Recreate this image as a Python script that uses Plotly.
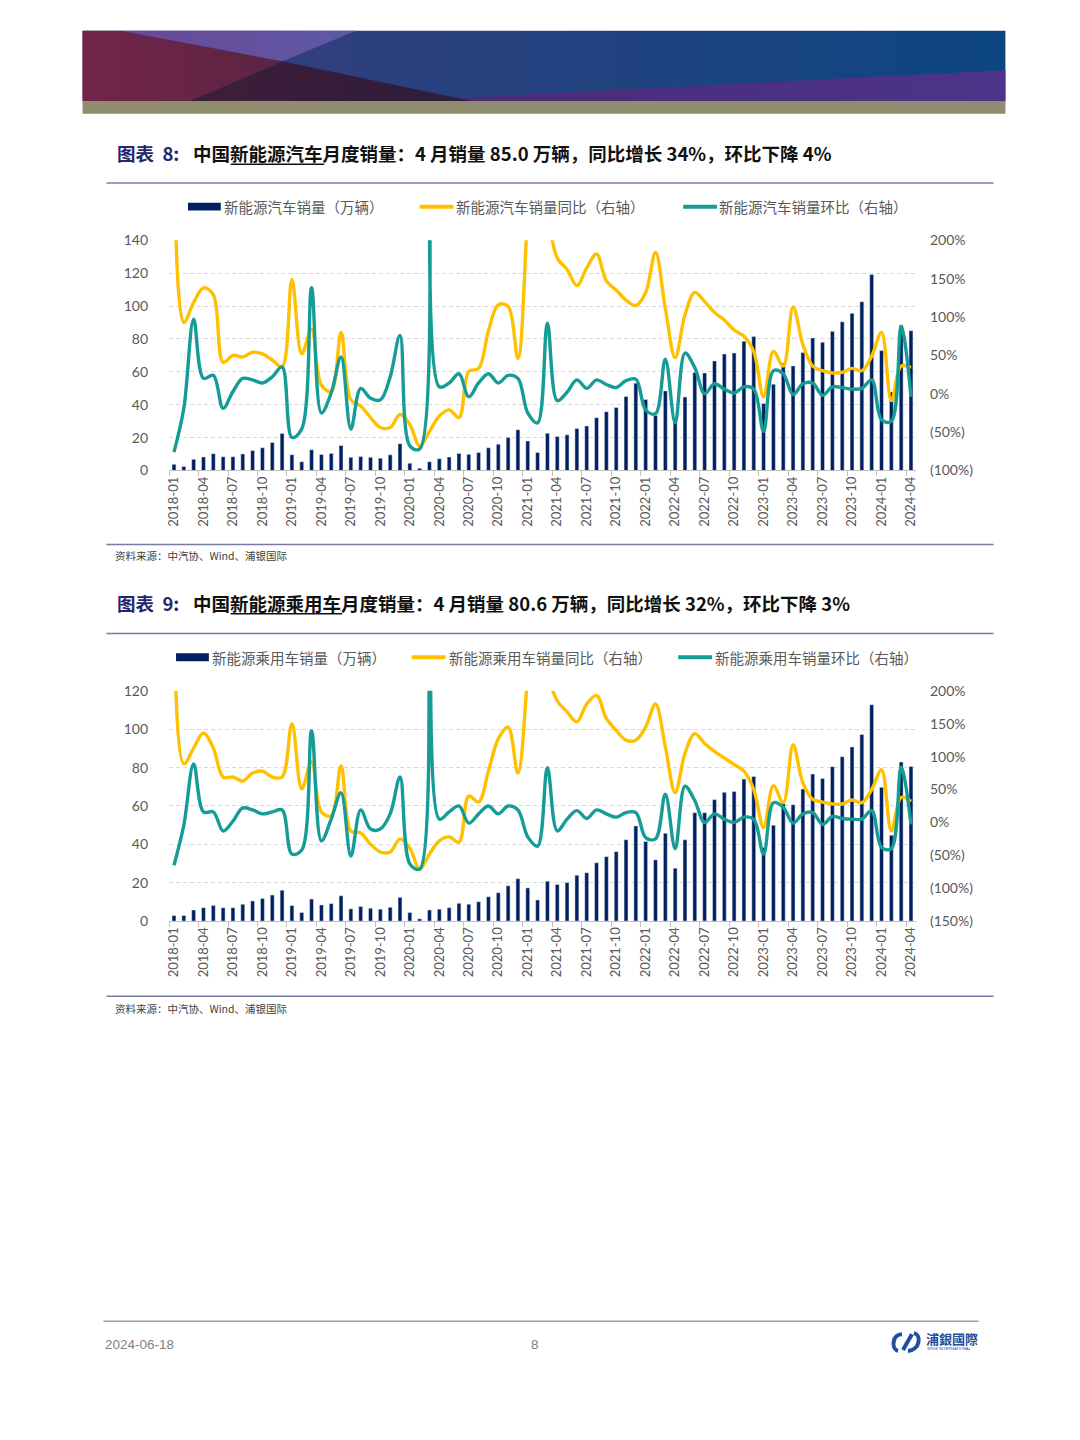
import plotly.graph_objects as go

W, H = 1080, 1440

# ---------------- data ----------------
months = [f"{y}-{m:02d}" for y in range(2018, 2025) for m in range(1, 13)][:76]
tick_months = months[::3]

# Chart 8: NEV monthly sales (10k units), YoY %, MoM %
nev_sales = [3.8, 2.5, 6.8, 8.2, 10.2, 8.4, 8.4, 10.1, 12.1, 13.8, 17.0, 22.5,
             9.6, 5.3, 12.6, 9.7, 10.4, 15.2, 8.0, 8.5, 8.0, 7.5, 9.5, 16.3,
             4.4, 1.3, 5.3, 7.2, 8.2, 10.4, 9.8, 10.9, 13.8, 16.0, 20.0, 24.8,
             17.9, 11.0, 22.6, 20.6, 21.7, 25.6, 27.1, 32.1, 35.7, 38.3, 45.0, 53.1,
             43.1, 33.4, 48.4, 29.9, 44.7, 59.6, 59.3, 66.6, 70.8, 71.4, 78.6, 81.4,
             40.8, 52.5, 65.3, 63.6, 71.7, 80.6, 78.0, 84.6, 90.4, 95.6, 102.6, 119.1,
             72.9, 47.7, 88.3, 85.0]
nev_yoy = [390, 93, 119, 138, 129, 41, 50, 48, 54, 52, 44, 35,
           149, 52, 84, 11, 3, 80, -8, -16, -31, -44, -44, -27,
           -40, -68, -49, -29, -21, -31, 29, 33, 82, 116, 114, 46,
           235, 400, 240, 177, 162, 141, 164, 182, 147, 135, 122, 115,
           132, 184, 111, 47, 103, 132, 120, 106, 96, 83, 75, 55,
           -4, 55, 36, 113, 64, 36, 30, 27, 28, 33, 30, 49,
           80, -9, 36, 34]
nev_mom = [-76, -19, 97, 20, 24, -19, 3, 20, 18, 14, 22, 35,
           -57, -46, 138, -25, 1, 48, -46, 7, -6, -8, 22, 76,
           -68, -72, 450, 9, 14, 26, -4, 14, 26, 14, 24, 20,
           -25, -38, 92, -9, 2, 18, 7, 18, 12, 8, 17, 19,
           -21, -26, 45, -38, 53, 34, 0, 13, 6, 1, 9, 6,
           -49, 30, 26, -1, 13, 14, -2, 9, 8, 6, 7, 18,
           -34, -36, 88, -4]

# Chart 9: NEV passenger-car monthly sales (10k units), YoY %, MoM %
pv_sales = [2.9, 2.9, 5.8, 7.0, 8.1, 7.0, 7.0, 8.8, 10.5, 11.8, 13.6, 16.1,
            8.1, 4.5, 11.5, 8.4, 9.1, 13.2, 6.4, 7.6, 6.7, 6.2, 7.2, 12.4,
            4.5, 1.2, 5.8, 6.2, 7.0, 9.3, 8.8, 10.1, 12.7, 14.8, 18.4, 22.1,
            17.3, 11.0, 20.8, 19.1, 20.1, 23.9, 25.2, 30.4, 33.6, 36.2, 42.4, 49.6,
            41.5, 31.9, 45.8, 27.6, 42.4, 56.5, 56.5, 63.3, 67.1, 67.5, 74.0, 75.4,
            38.4, 50.0, 61.3, 60.6, 68.8, 76.6, 74.3, 80.5, 85.7, 90.8, 97.3, 112.8,
            69.7, 44.8, 82.9, 80.6]
pv_yoy = [500, 89, 113, 136, 113, 69, 69, 63, 75, 78, 69, 69,
          150, 51, 92, 16, 10, 86, -13, -16, -33, -45, -45, -25,
          -39, -71, -48, -28, -22, -30, 40, 31, 78, 127, 145, 75,
          225, 400, 230, 185, 168, 153, 180, 193, 158, 140, 125, 125,
          145, 180, 115, 45, 105, 135, 120, 108, 98, 88, 78, 50,
          -8, 56, 30, 118, 60, 35, 31, 28, 28, 34, 30, 50,
          80, -13, 38, 32]
pv_mom = [-65, -4, 89, 16, 16, -13, 2, 22, 19, 13, 16, 19,
          -48, -42, 139, -28, 5, 45, -51, 19, -10, -10, 13, 69,
          -63, -71, 420, 5, 16, 25, -1, 13, 25, 13, 25, 19,
          -22, -36, 83, -13, 5, 18, 6, 19, 13, 8, 15, 15,
          -23, -25, 43, -40, 55, 33, 0, 13, 5, 0, 8, 5,
          -48, 30, 23, -1, 13, 15, -3, 9, 6, 5, 5, 18,
          -38, -40, 84, -3]

# axis tick labels
left1_ticks = [0, 20, 40, 60, 80, 100, 120, 140]
right1_vals = [-100, -50, 0, 50, 100, 150, 200]
right1_text = ["(100%)", "(50%)", "0%", "50%", "100%", "150%", "200%"]
left2_ticks = [0, 20, 40, 60, 80, 100, 120]
right2_vals = [-150, -100, -50, 0, 50, 100, 150, 200]
right2_text = ["(150%)", "(100%)", "(50%)", "0%", "50%", "100%", "150%", "200%"]

# ---------------- styles ----------------
NAVY = "#002060"
YEL = "#FFC000"
TEAL = "#169C97"
GRID = "#D9D9D9"
AXC = "#BFBFBF"
TXT = "#595959"
CJK = "Noto Sans CJK SC"
NUMF = "Lato"
RULE = "#7A7AA6"
LW = 3.4


def fy(y):
    return 1 - y / H


fig = go.Figure()

# ---------- chart 8 ----------
fig.add_trace(go.Bar(x=months, y=nev_sales, marker_color=NAVY, xaxis="x", yaxis="y",
                     showlegend=False, hoverinfo="skip"))
fig.add_trace(go.Scatter(x=months, y=nev_yoy, mode="lines", xaxis="x", yaxis="y2",
                         line=dict(color=YEL, width=LW, shape="spline", smoothing=1.0),
                         showlegend=False, hoverinfo="skip"))
fig.add_trace(go.Scatter(x=months, y=nev_mom, mode="lines", xaxis="x", yaxis="y2",
                         line=dict(color=TEAL, width=LW, shape="spline", smoothing=1.0),
                         showlegend=False, hoverinfo="skip"))
# ---------- chart 9 ----------
fig.add_trace(go.Bar(x=months, y=pv_sales, marker_color=NAVY, xaxis="x2", yaxis="y3",
                     showlegend=False, hoverinfo="skip"))
fig.add_trace(go.Scatter(x=months, y=pv_yoy, mode="lines", xaxis="x2", yaxis="y4",
                         line=dict(color=YEL, width=LW, shape="spline", smoothing=1.0),
                         showlegend=False, hoverinfo="skip"))
fig.add_trace(go.Scatter(x=months, y=pv_mom, mode="lines", xaxis="x2", yaxis="y4",
                         line=dict(color=TEAL, width=LW, shape="spline", smoothing=1.0),
                         showlegend=False, hoverinfo="skip"))

# ---------- header banner (decorative) ----------
banner = [
    ([79, 1007, 1007, 79], [22, 22, 93, 93], "#3b3d7c", "#0c4682"),
    ([79, 118, 280, 187, 79], [22, 22, 53, 93, 93], "#712549", "#5c2444"),
    ([118, 354, 280], [22, 22, 53], "#6c4795", "#5d5aa6"),
    ([400, 1007, 1007], [93, 62, 93], "#4a2a72", "#4d348a"),
    ([187, 280, 470], [93, 53, 93], "#3f1d3a", "#2d1d3a"),
]
for xs, ys, c1, c2 in banner:
    fig.add_trace(go.Scatter(x=xs + [xs[0]], y=ys + [ys[0]], mode="lines", fill="toself",
                             line=dict(width=0), xaxis="x3", yaxis="y5",
                             fillgradient=dict(type="horizontal",
                                               colorscale=[[0, c1], [1, c2]]),
                             showlegend=False, hoverinfo="skip"))

xcommon = dict(type="category", domain=[166 / W, 917 / W], range=[-0.5, 75.5],
               tickmode="array", tickvals=tick_months, ticktext=tick_months,
               tickangle=-90, tickson="boundaries", ticks="outside", ticklen=5,
               tickcolor=AXC, showline=True, linecolor=AXC, linewidth=1,
               showgrid=False, zeroline=False,
               tickfont=dict(family=NUMF, size=13, color=TXT), fixedrange=True)
ycommon = dict(showgrid=True, gridcolor=GRID, griddash="4px,3px", gridwidth=1,
               zeroline=False, showline=False, ticks="",
               tickfont=dict(family=NUMF, size=14, color=TXT), ticklabelstandoff=20,
               fixedrange=True)
yright = dict(showgrid=False, zeroline=False, showline=False, ticks="",
              tickfont=dict(family=NUMF, size=14, color=TXT), ticklabelstandoff=13,
              fixedrange=True, side="right")

fig.update_layout(
    width=W, height=H, margin=dict(l=0, r=0, t=0, b=0),
    paper_bgcolor="white", plot_bgcolor="rgba(0,0,0,0)",
    bargap=0.6, showlegend=False, hovermode=False,
    xaxis=dict(anchor="y", **xcommon),
    yaxis=dict(anchor="x", domain=[fy(467), fy(234)], range=[0, 140],
               tickvals=left1_ticks, **ycommon),
    yaxis2=dict(anchor="x", overlaying="y", range=[-100, 200], tickvals=right1_vals,
                ticktext=right1_text, **yright),
    xaxis2=dict(anchor="y3", **xcommon),
    yaxis3=dict(anchor="x2", domain=[fy(923), fy(690)], range=[0, 120],
                tickvals=left2_ticks, **ycommon),
    yaxis4=dict(anchor="x2", overlaying="y3", range=[-150, 200], tickvals=right2_vals,
                ticktext=right2_text, **yright),
    xaxis3=dict(anchor="y5", domain=[0, 1], range=[0, W], visible=False, fixedrange=True),
    yaxis5=dict(anchor="x3", domain=[0, 1], range=[H, 0], visible=False, fixedrange=True),
)

shapes = []
ann = []


def line(x0, y0, x1, y1, color, width):
    shapes.append(dict(type="line", xref="x3", yref="y5", x0=x0, y0=y0, x1=x1, y1=y1,
                       line=dict(color=color, width=width)))


def text(x, y, s, size, color, family=CJK, xanchor="left"):
    # small correction for the annotation's inner padding
    xx = x - 3 if xanchor == "left" else x
    ann.append(dict(xref="x3", yref="y5", x=xx, y=y, text=s, showarrow=False,
                    xanchor=xanchor, yanchor="middle",
                    font=dict(family=family, size=size, color=color)))


# khaki band under banner
shapes.append(dict(type="rect", xref="x3", yref="y5", x0=79, x1=1007, y0=93, y1=106,
                   fillcolor="#8f8d6d", line=dict(width=0), layer="below"))

# titles
TBLUE = "#25276E"
text(115, 146, "<b>图表  8:</b>", 18.5, TBLUE)
text(191, 146, "<b>中国新能源汽车月度销量：4 月销量 85.0 万辆，同比增长 34%，环比下降 4%</b>",
     18.5, "#111111")
line(228, 157, 322, 157, "#111111", 1.5)
text(115, 601, "<b>图表  9:</b>", 18.5, TBLUE)
text(191, 601, "<b>中国新能源乘用车月度销量：4 月销量 80.6 万辆，同比增长 32%，环比下降 3%</b>",
     18.5, "#111111")
line(228, 612, 340, 612, "#111111", 1.5)

# rules
for yy in (176, 542, 632, 999):
    line(103, yy, 995, yy, RULE, 1.5)

# sources
text(113, 553, "资料来源：中汽协、Wind、浦银国际", 10.5, "#404040")
text(113, 1011, "资料来源：中汽协、Wind、浦银国际", 10.5, "#404040")

# legends
shapes.append(dict(type="rect", xref="x3", yref="y5", x0=185, x1=218, y0=196, y1=204,
                   fillcolor=NAVY, line=dict(width=0)))
text(222, 200, "新能源汽车销量（万辆）", 14.5, TXT)
line(418, 200, 452, 200, YEL, 4)
text(456, 200, "新能源汽车销量同比（右轴）", 14.5, TXT)
line(683, 200, 717, 200, TEAL, 4)
text(720, 200, "新能源汽车销量环比（右轴）", 14.5, TXT)

shapes.append(dict(type="rect", xref="x3", yref="y5", x0=173, x1=206, y0=652, y1=660,
                   fillcolor=NAVY, line=dict(width=0)))
text(210, 656, "新能源乘用车销量（万辆）", 14.5, TXT)
line(410, 656, 444, 656, YEL, 4)
text(448, 656, "新能源乘用车销量同比（右轴）", 14.5, TXT)
line(678, 656, 712, 656, TEAL, 4)
text(716, 656, "新能源乘用车销量环比（右轴）", 14.5, TXT)

# footer
line(100, 1328, 980, 1328, "#A8A584", 1.5)
text(103, 1351, "2024-06-18", 13.5, "#7F7F7F", family="Liberation Sans")
text(534, 1351, "8", 13.5, "#7F7F7F", family="Liberation Sans", xanchor="center")
LOGO = "#1F4F9E"
shapes.append(dict(type="path", xref="x3", yref="y5",
                   path="M 903 1341 C 893 1341, 892 1356, 899 1358",
                   line=dict(color=LOGO, width=4)))
shapes.append(dict(type="path", xref="x3", yref="y5",
                   path="M 904 1357 L 913 1341",
                   line=dict(color=LOGO, width=4)))
shapes.append(dict(type="path", xref="x3", yref="y5",
                   path="M 915 1340 C 923 1342, 921 1357, 909 1358",
                   line=dict(color=LOGO, width=4)))
text(928, 1345, "<b>浦銀國際</b>", 13, LOGO)
text(929, 1356, "SPDB INTERNATIONAL", 4, LOGO, family="Liberation Sans")

fig.update_layout(shapes=shapes, annotations=ann)

fig.write_html(
    "out.html",
    config={"displayModeBar": False, "staticPlot": True},
    post_script=(
        "document.documentElement.style.margin='0';"
        "document.documentElement.style.overflow='hidden';"
        "document.body.style.margin='0';"
        "document.body.style.padding='0';"
        "document.body.style.overflow='hidden';"
        "var d=document.getElementById('{plot_id}');"
        "d.style.position='fixed';d.style.left='0px';d.style.top='0px';"
    ),
)
